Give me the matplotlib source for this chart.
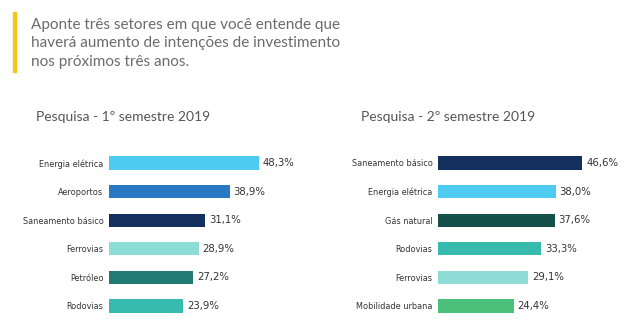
import matplotlib.pyplot as plt
from matplotlib.patches import Rectangle

# dados
setores_1 = ['Energia elétrica', 'Aeroportos', 'Saneamento básico', 'Ferrovias', 'Petróleo', 'Rodovias']
valores_1 = [48.3, 38.9, 31.1, 28.9, 27.2, 23.9]
cores_1 = ['#4ecbf0', '#2878c3', '#14305f', '#8ddcd6', '#217a73', '#38bbaf']

setores_2 = ['Saneamento básico', 'Energia elétrica', 'Gás natural', 'Rodovias', 'Ferrovias', 'Mobilidade urbana']
valores_2 = [46.6, 38.0, 37.6, 33.3, 29.1, 24.4]
cores_2 = ['#14305f', '#4ecbf0', '#15504a', '#38bbaf', '#8ddcd6', '#4bc07a']

titulos = ['Pesquisa - 1º semestre 2019', 'Pesquisa - 2º semestre 2019']

W, H = 626, 334
fig = plt.figure(figsize=(W / 100, H / 100), dpi=100)
fig.patch.set_facecolor('white')

# cabeçalho
fig.patches.append(Rectangle((13 / W, 1 - 72 / H), 3 / W, 60 / H,
                             transform=fig.transFigure, color='#f5c518'))
pergunta = ['Aponte três setores em que você entende que',
            'haverá aumento de intenções de investimento',
            'nos próximos três anos.']
for i, linha in enumerate(pergunta):
    fig.text(31 / W, 1 - (25 + 18.5 * i) / H, linha, fontsize=11,
             family='Lato', color='#6b6b6b', va='center', ha='left')


def painel(x0, titulo_x, setores, valores, cores, titulo):
    ax = fig.add_axes([x0 / W, 0.041, 186 / W, 0.514])
    y = range(len(setores))
    ax.barh(y, valores, height=0.46, color=cores)
    ax.set_xlim(0, 60)
    ax.set_ylim(len(setores) - 0.5, -0.5)
    ax.set_yticks(list(y))
    ax.set_yticklabels(setores, fontsize=5.9, color='#333333')
    ax.tick_params(axis='y', length=0, pad=4)
    ax.set_xticks([])
    for s in ax.spines.values():
        s.set_visible(False)
    for yi, v in zip(y, valores):
        ax.text(v + 1.2, yi, f'{v:.1f}%'.replace('.', ','), va='center',
                ha='left', fontsize=7.3, color='#333333')
    fig.text(titulo_x / W, 1 - 117 / H, titulo, fontsize=10, family='Lato',
             color='#555555', va='center', ha='left')


painel(109, 36, setores_1, valores_1, cores_1, titulos[0])
painel(438, 361, setores_2, valores_2, cores_2, titulos[1])

fig.savefig('out.png', dpi=100)
